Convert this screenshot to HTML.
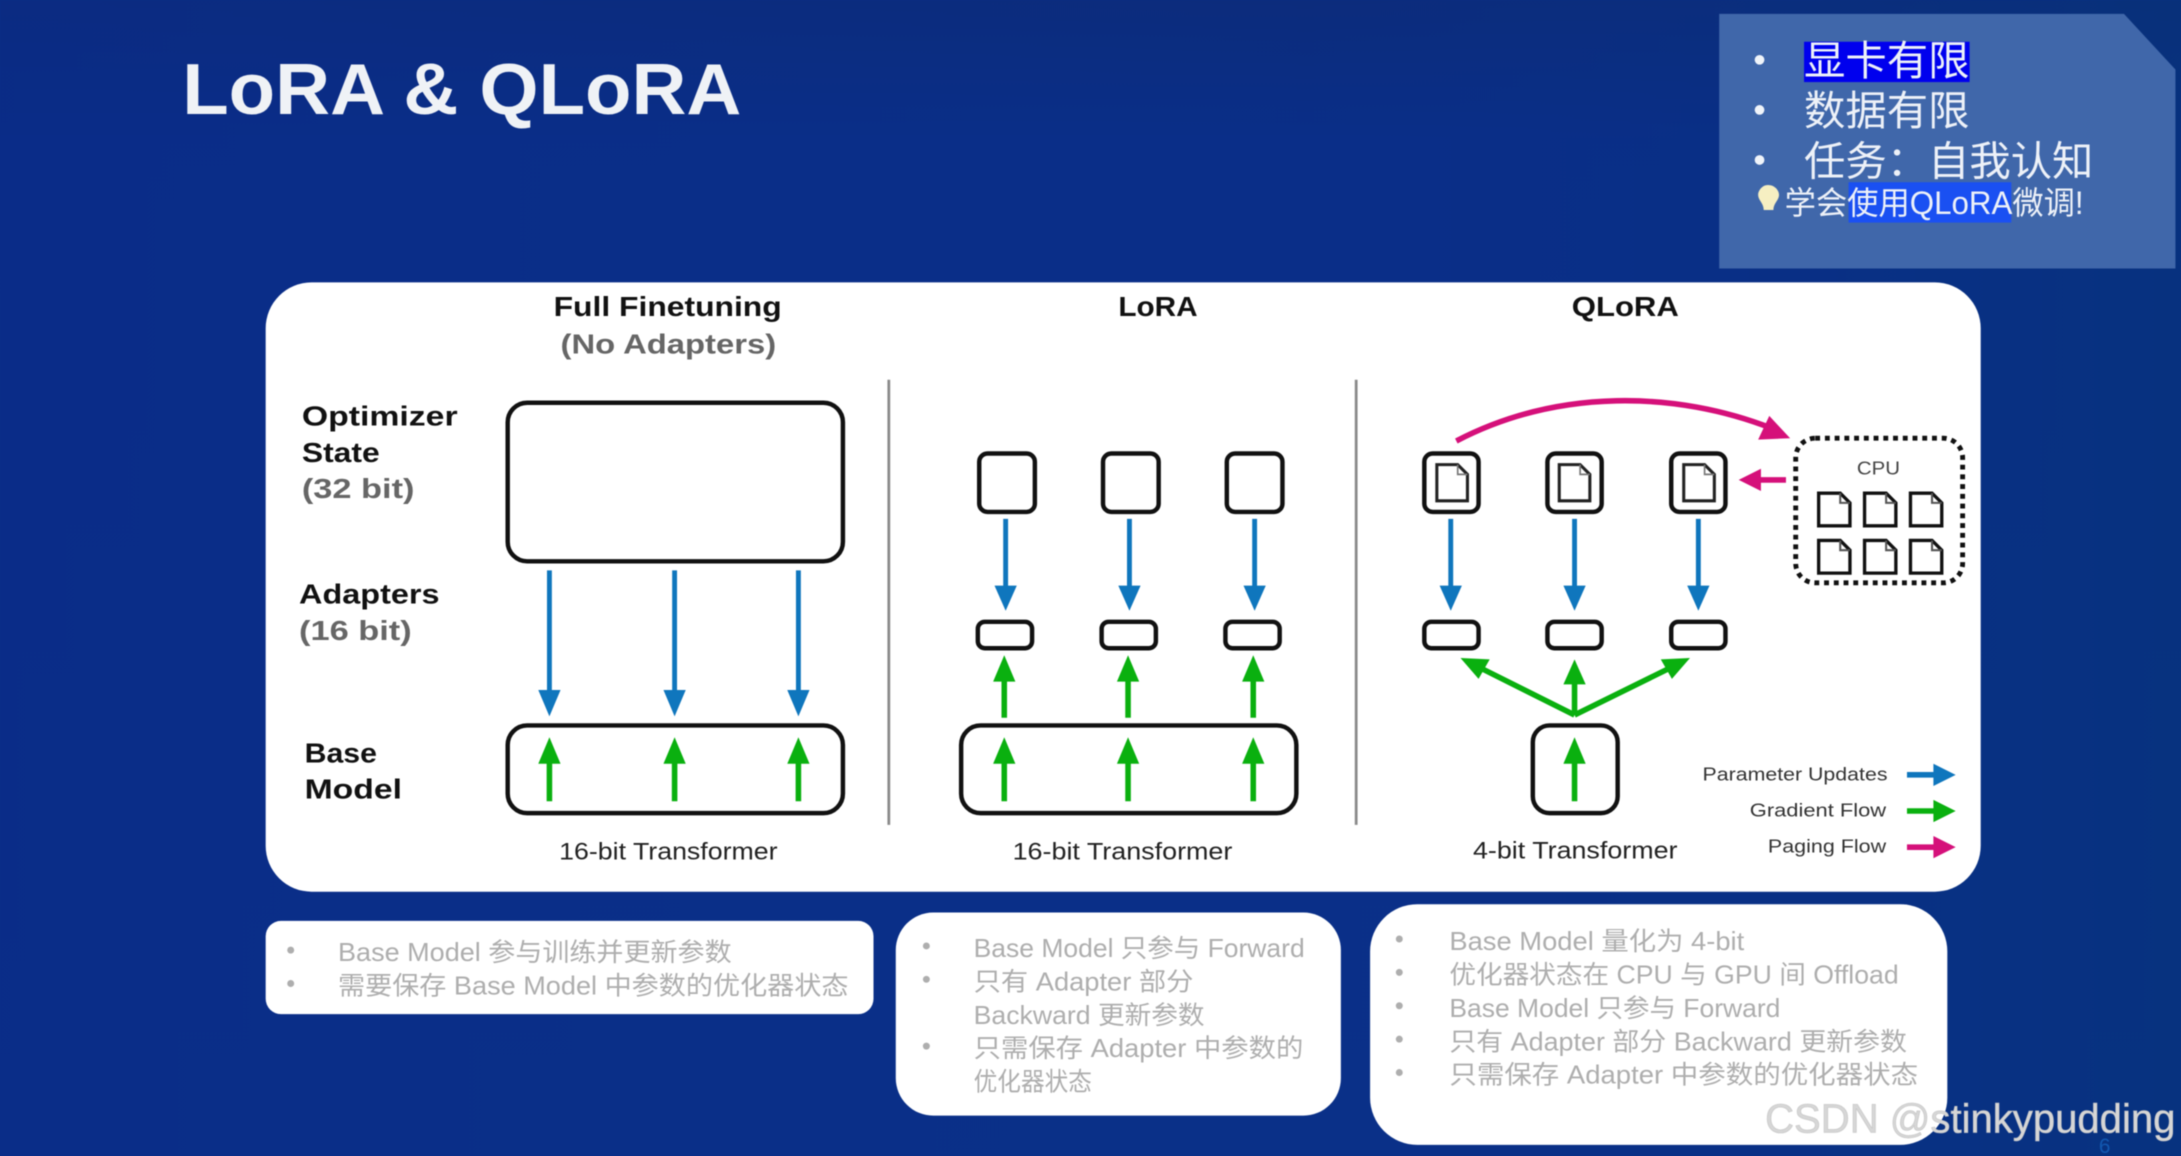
<!DOCTYPE html>
<html><head><meta charset="utf-8">
<style>
html,body{margin:0;padding:0;width:2181px;height:1156px;overflow:hidden;background:#0a2f86}
svg{display:block;position:absolute;left:0;top:0;filter:blur(.6px)}
text{font-family:"Liberation Sans","Noto Sans CJK SC",sans-serif}
.b{font-weight:bold;fill:#111}
.g{font-weight:bold;fill:#666}
.n{font-size:18.5px;fill:#aeaeae}
.w{fill:#edf1f8;font-size:29.5px}
.t{font-size:17px;fill:#222}
.l{font-size:13.5px;fill:#333}
</style></head><body>
<svg width="2181" height="1156" viewBox="0 0 1568 831" preserveAspectRatio="none" xmlns="http://www.w3.org/2000/svg">
<defs>
<linearGradient id="bg" x1="0" y1="0" x2="0" y2="1"><stop offset="0" stop-color="#0c2c7c"/><stop offset=".12" stop-color="#0a2e88"/><stop offset="1" stop-color="#0a3088"/></linearGradient>
<linearGradient id="bg2" x1="0" y1="0" x2="1" y2="0"><stop offset="0" stop-color="#0a2a88" stop-opacity=".5"/><stop offset=".6" stop-color="#0a3088" stop-opacity="0"/><stop offset="1" stop-color="#053478" stop-opacity=".55"/></linearGradient>
<g id="doc"><path d="M1.5 1.5H17L24 8.5V25H1.5Z" fill="#fff" stroke="#111" stroke-width="2.400"/><path d="M17 1.5V8.5H24" fill="none" stroke="#555" stroke-width="1.5"/></g>
<g id="idoc"><path d="M1 1H16L23 8V27H1Z" fill="#fff" stroke="#222" stroke-width="2.200"/><path d="M16 1V8H23" fill="none" stroke="#777" stroke-width="1.2"/></g>
</defs>
<rect width="1568" height="831" fill="url(#bg)"/>
<rect width="1568" height="831" fill="url(#bg2)"/>

<text x="131" y="82" font-size="52" font-weight="bold" fill="#eff2f6" textLength="402" lengthAdjust="spacingAndGlyphs">LoRA &amp; QLoRA</text>

<!-- top right note -->
<path d="M1236 10H1527L1564 50V193H1236Z" fill="#4067aa"/>
<rect x="1297" y="30" width="119" height="29" fill="#0000ee"/>
<rect x="1329" y="131" width="117" height="29" fill="#1a50f2"/>
<g fill="#f0f4fa"><circle cx="1265" cy="43" r="3.5"/><circle cx="1265" cy="79" r="3.5"/><circle cx="1265" cy="115" r="3.5"/></g>
<text class="w" x="1297" y="54" textLength="119" lengthAdjust="spacingAndGlyphs">显卡有限</text>
<text class="w" x="1297" y="90" textLength="119" lengthAdjust="spacingAndGlyphs">数据有限</text>
<text class="w" x="1297" y="126" textLength="208" lengthAdjust="spacingAndGlyphs">任务：自我认知</text>
<path d="M1271 133c5 0 8 4 8 7 0 4-4 6-4 11h-7c0-5-4-7-4-11 0-3 3-7 7-7z" fill="#f6efc2"/>
<text x="1283" y="154" font-size="23" fill="#edf1f8" textLength="215" lengthAdjust="spacingAndGlyphs">学会使用QLoRA微调!</text>

<!-- main panel -->
<rect x="191" y="203" width="1233" height="438" rx="33" fill="#fff"/>

<text class="b" x="398" y="227" font-size="20" textLength="164" lengthAdjust="spacingAndGlyphs">Full Finetuning</text>
<text class="g" x="403" y="254" font-size="20" textLength="155" lengthAdjust="spacingAndGlyphs">(No Adapters)</text>
<text class="b" x="804" y="227" font-size="20" textLength="57" lengthAdjust="spacingAndGlyphs">LoRA</text>
<text class="b" x="1130" y="227" font-size="20" textLength="77" lengthAdjust="spacingAndGlyphs">QLoRA</text>

<text class="b" x="217" y="306" font-size="20" textLength="112" lengthAdjust="spacingAndGlyphs">Optimizer</text>
<text class="b" x="217" y="332" font-size="20" textLength="56" lengthAdjust="spacingAndGlyphs">State</text>
<text class="g" x="217" y="358" font-size="20" textLength="81" lengthAdjust="spacingAndGlyphs">(32 bit)</text>
<text class="b" x="215" y="434" font-size="20" textLength="101" lengthAdjust="spacingAndGlyphs">Adapters</text>
<text class="g" x="215" y="460" font-size="20" textLength="81" lengthAdjust="spacingAndGlyphs">(16 bit)</text>
<text class="b" x="219" y="548" font-size="20" textLength="52" lengthAdjust="spacingAndGlyphs">Base</text>
<text class="b" x="219" y="574" font-size="20" textLength="70" lengthAdjust="spacingAndGlyphs">Model</text>

<path d="M639 273V593M975 273V593" stroke="#8a8a8a" stroke-width="2" fill="none"/>

<!-- boxes -->
<g fill="#fff" stroke="#111" stroke-width="3.200">
<rect x="365" y="289.500" width="241" height="114" rx="14"/>
<rect x="365" y="521.500" width="241" height="63" rx="14"/>
<rect x="704" y="326" width="40" height="42" rx="6"/>
<rect x="793" y="326" width="40" height="42" rx="6"/>
<rect x="882" y="326" width="40" height="42" rx="6"/>
<rect x="703" y="447" width="39" height="19" rx="5"/>
<rect x="792" y="447" width="39" height="19" rx="5"/>
<rect x="881" y="447" width="39" height="19" rx="5"/>
<rect x="691" y="521.500" width="241" height="63" rx="14"/>
<rect x="1024" y="326" width="39" height="42" rx="6"/>
<rect x="1112.500" y="326" width="39" height="42" rx="6"/>
<rect x="1201.500" y="326" width="39" height="42" rx="6"/>
<rect x="1024" y="447" width="39" height="19" rx="5"/>
<rect x="1112.500" y="447" width="39" height="19" rx="5"/>
<rect x="1201.500" y="447" width="39" height="19" rx="5"/>
<rect x="1102" y="521.500" width="61" height="63" rx="12"/>
</g>
<use href="#idoc" x="1032" y="333"/><use href="#idoc" x="1120" y="333"/><use href="#idoc" x="1209.500" y="333"/>

<!-- blue arrows -->
<g stroke="#0f76bd" stroke-width="3.500" fill="none">
<path d="M395 410V500M485 410V500M574 410V500M723 373V425M812 373V425M902 373V425M1043 373V425M1132 373V425M1221 373V425"/>
</g>
<g fill="#0f76bd">
<path d="M387 496H403L395 515Z"/><path d="M477 496H493L485 515Z"/><path d="M566 496H582L574 515Z"/>
<path d="M715 421H731L723 439Z"/><path d="M804 421H820L812 439Z"/><path d="M894 421H910L902 439Z"/>
<path d="M1035 421H1051L1043 439Z"/><path d="M1124 421H1140L1132 439Z"/><path d="M1213 421H1229L1221 439Z"/>
</g>

<!-- green arrows -->
<g stroke="#0ab00f" stroke-width="4" fill="none">
<path d="M395 576V545M485 576V545M574 576V545M722 576V545M811 576V545M901 576V545M1132 576V545M722 516V486M811 516V486M901 516V486M1132 514V488M1132 514L1060 478M1132 514L1205 478"/>
</g>
<g fill="#0ab00f">
<path d="M387 549H403L395 530Z"/><path d="M477 549H493L485 530Z"/><path d="M566 549H582L574 530Z"/>
<path d="M714 549H730L722 530Z"/><path d="M803 549H819L811 530Z"/><path d="M893 549H909L901 530Z"/>
<path d="M1124 549H1140L1132 530Z"/>
<path d="M714 490H730L722 471Z"/><path d="M803 490H819L811 471Z"/><path d="M893 490H909L901 471Z"/>
<path d="M1124 492H1140L1132 474Z"/>
<path d="M1050 473L1071 474L1063 488Z"/><path d="M1215 473L1194 474L1202 488Z"/>
</g>

<!-- paging -->
<path d="M1047 317C1120 279 1205 281 1274 308" fill="none" stroke="#d5107a" stroke-width="4"/>
<path d="M1287 315L1264 316L1272 299Z" fill="#d5107a"/>
<path d="M1284 345H1262" stroke="#d5107a" stroke-width="4" fill="none"/>
<path d="M1250 345L1266 337V353Z" fill="#d5107a"/>
<rect x="1291" y="315" width="120" height="104" rx="14" fill="#fff" stroke="#111" stroke-width="3.500" stroke-dasharray="3.500 3.500"/>
<text x="1335" y="341" font-size="13.500" fill="#444" textLength="31" lengthAdjust="spacingAndGlyphs">CPU</text>
<use href="#doc" x="1306" y="353"/><use href="#doc" x="1339" y="353"/><use href="#doc" x="1372" y="353"/>
<use href="#doc" x="1306" y="387"/><use href="#doc" x="1339" y="387"/><use href="#doc" x="1372" y="387"/>

<text class="t" x="402" y="618" textLength="157" lengthAdjust="spacingAndGlyphs">16-bit Transformer</text>
<text class="t" x="728" y="618" textLength="158" lengthAdjust="spacingAndGlyphs">16-bit Transformer</text>
<text class="t" x="1059" y="617" textLength="147" lengthAdjust="spacingAndGlyphs">4-bit Transformer</text>

<!-- legend -->
<text class="l" x="1224" y="561" textLength="133" lengthAdjust="spacingAndGlyphs">Parameter Updates</text>
<text class="l" x="1258" y="587" textLength="98" lengthAdjust="spacingAndGlyphs">Gradient Flow</text>
<text class="l" x="1271" y="613" textLength="85" lengthAdjust="spacingAndGlyphs">Paging Flow</text>
<path d="M1371 557H1392" stroke="#0f76bd" stroke-width="4"/><path d="M1390 549L1406 557L1390 565Z" fill="#0f76bd"/>
<path d="M1371 583H1392" stroke="#0ab00f" stroke-width="4"/><path d="M1390 575L1406 583L1390 591Z" fill="#0ab00f"/>
<path d="M1371 609H1392" stroke="#d5107a" stroke-width="4"/><path d="M1390 601L1406 609L1390 617Z" fill="#d5107a"/>

<!-- notes -->
<rect x="191" y="662" width="437" height="67" rx="11" fill="#fff"/>
<rect x="644" y="656" width="320" height="146" rx="27" fill="#fff"/>
<rect x="985" y="650" width="415" height="173" rx="34" fill="#fff"/>
<g fill="#aeaeae">
<circle cx="209" cy="683" r="2.500"/><circle cx="209" cy="707" r="2.500"/>
<circle cx="666" cy="680" r="2.500"/><circle cx="666" cy="704" r="2.500"/><circle cx="666" cy="752" r="2.500"/>
<circle cx="1006" cy="675" r="2.500"/><circle cx="1006" cy="699" r="2.500"/><circle cx="1006" cy="723" r="2.500"/><circle cx="1006" cy="747" r="2.500"/><circle cx="1006" cy="771" r="2.500"/>
</g>
<text class="n" x="243" y="691" textLength="283" lengthAdjust="spacingAndGlyphs">Base Model 参与训练并更新参数</text>
<text class="n" x="243" y="715" textLength="367" lengthAdjust="spacingAndGlyphs">需要保存 Base Model 中参数的优化器状态</text>
<text class="n" x="700" y="688" textLength="238" lengthAdjust="spacingAndGlyphs">Base Model 只参与 Forward</text>
<text class="n" x="700" y="712" textLength="158" lengthAdjust="spacingAndGlyphs">只有 Adapter 部分</text>
<text class="n" x="700" y="736" textLength="166" lengthAdjust="spacingAndGlyphs">Backward 更新参数</text>
<text class="n" x="700" y="760" textLength="237" lengthAdjust="spacingAndGlyphs">只需保存 Adapter 中参数的</text>
<text class="n" x="700" y="784" textLength="85" lengthAdjust="spacingAndGlyphs">优化器状态</text>
<text class="n" x="1042" y="683" textLength="212" lengthAdjust="spacingAndGlyphs">Base Model 量化为 4-bit</text>
<text class="n" x="1042" y="707" textLength="323" lengthAdjust="spacingAndGlyphs">优化器状态在 CPU 与 GPU 间 Offload</text>
<text class="n" x="1042" y="731" textLength="238" lengthAdjust="spacingAndGlyphs">Base Model 只参与 Forward</text>
<text class="n" x="1042" y="755" textLength="329" lengthAdjust="spacingAndGlyphs">只有 Adapter 部分 Backward 更新参数</text>
<text class="n" x="1042" y="779" textLength="337" lengthAdjust="spacingAndGlyphs">只需保存 Adapter 中参数的优化器状态</text>

<!-- watermark -->
<text x="1269" y="814" font-size="29" fill="#d6d6d6" stroke="#c4c4c4" stroke-width=".4" textLength="295" lengthAdjust="spacingAndGlyphs">CSDN @stinkypudding</text>
<text x="1509" y="829" font-size="15" fill="#1258b0">6</text>
</svg>
</body></html>
